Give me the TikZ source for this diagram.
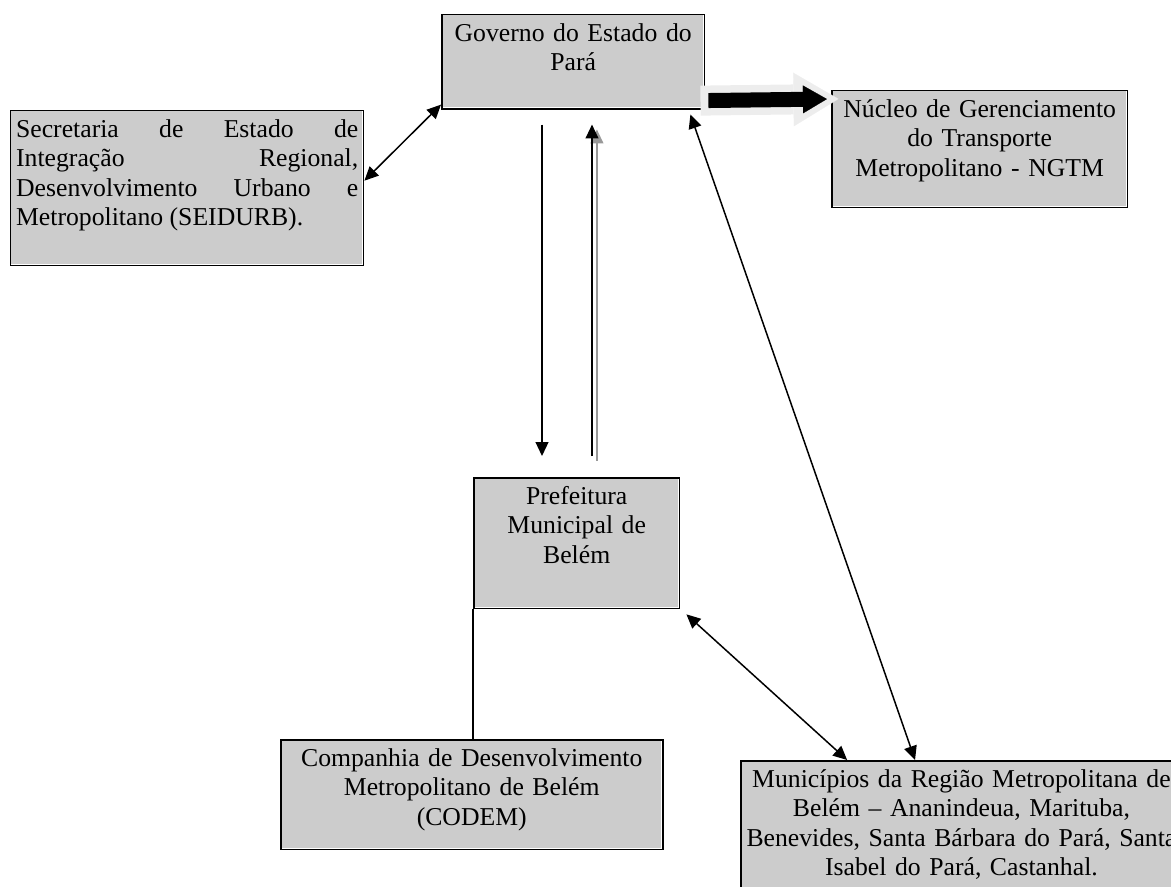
\documentclass[tikz,border=0pt]{standalone}
\usepackage{fontspec}
\setmainfont{Liberation Serif}
\usetikzlibrary{arrows.meta}

\begin{document}
\begin{tikzpicture}[
  x=0.0164cm, y=-0.0164cm,
  >={Triangle[length=6.5pt,width=6pt]},
  box/.style={draw=black, fill=black!20, line width=0.7pt, anchor=north west,
    font=\fontsize{12}{13.8}\selectfont, align=center,
    inner xsep=2.5pt, inner ysep=2.8pt, text height=9.5pt,
    path picture={\draw[white, line width=0.5pt]
      ([yshift=0.7pt]path picture bounding box.south west)
      -- ([xshift=-0.7pt,yshift=0.7pt]path picture bounding box.south east)
      -- ([xshift=-0.7pt]path picture bounding box.north east);}},
  link/.style={black, line width=0.7pt},
  ghost/.style={black!40, line width=0.7pt},
  fatrim/.style={black!7, line width=14pt,
    -{Triangle[length=21pt,width=25pt,line width=0.1pt]}},
  fatcore/.style={black, line width=7pt,
    -{Triangle[length=11.2pt,width=13pt,line width=0.1pt]}}
]

% page frame, one unit = one pixel of the drawing
\clip (0,0) rectangle (1171,887);

% ----------------------------- bodies -----------------------------
\node[box, text width=117.7pt, text depth=28.8pt] (gov) at (441,14)
  {Governo do Estado do\\Pará};
\node[box, align=justify, text width=159.7pt, text depth=57.2pt] (seidurb) at (10,110)
  {Secretaria de Estado de\linebreak Integração Regional,\linebreak
   Desenvolvimento Urbano e\linebreak Metropolitano (SEIDURB).};
\node[box, text width=133.1pt, text depth=39.5pt] (ngtm) at (831,90)
  {Núcleo de Gerenciamento\\do Transporte\\Metropolitano - NGTM};
\node[box, text width=91.1pt, text depth=46pt] (pref) at (473,477)
  {Prefeitura\\Municipal de\\Belém};
\node[box, text width=173.3pt, text depth=36.2pt] (codem) at (280,739)
  {Companhia de Desenvolvimento\\Metropolitano de Belém\\(CODEM)};
\node[box, inner xsep=1pt, text width=204pt, text depth=50pt] (munic) at (740,760)
  {Municípios da Região Metropolitana de\\Belém – Ananindeua, Marituba,\\
   Benevides, Santa Bárbara do Pará, Santa\\Isabel do Pará, Castanhal.};

% ----------------------------- links -----------------------------
\draw[link, <->] ([yshift=3.5pt]seidurb.east) -- ([yshift=2.3pt]gov.south west);

% state <-> city hall, the upward one with a grey shadow
\coordinate (dn) at (542,0);
\coordinate (up) at (592,0);
\coordinate (upfoot) at (pref.north -| up);
\coordinate (uphead) at (gov.south -| up);
\draw[link, ->, shorten <=7pt, shorten >=9.8pt] (gov.south -| dn) -- (pref.north -| dn);
\draw[ghost, ->, shorten <=9.8pt, shorten >=7pt]
  ([xshift=2.3pt,yshift=-2.3pt]upfoot) -- ([xshift=2.3pt,yshift=-2.3pt]uphead);
\draw[link, ->, shorten <=9.8pt, shorten >=7pt] (upfoot) -- (uphead);

\draw[link, <->] ([xshift=-7pt,yshift=-2.3pt]gov.south east) -- ([xshift=81.7pt]munic.north west);
\draw[link, <->] ([xshift=2.8pt,yshift=-2.3pt]pref.south east) -- ([xshift=50pt]munic.north west);
\draw[link] (pref.south west) -- (pref.south west |- codem.north);

% block arrow towards the NGTM
\draw[fatrim, shorten <=-2.3pt, shorten >=-3.5pt]
  ([yshift=4.2pt]gov.south east) -- ([yshift=-4.2pt]ngtm.north west);
\draw[fatcore, shorten <=1.4pt, shorten >=1.9pt]
  ([yshift=4.2pt]gov.south east) -- ([yshift=-4.2pt]ngtm.north west);

\end{tikzpicture}
\end{document}
